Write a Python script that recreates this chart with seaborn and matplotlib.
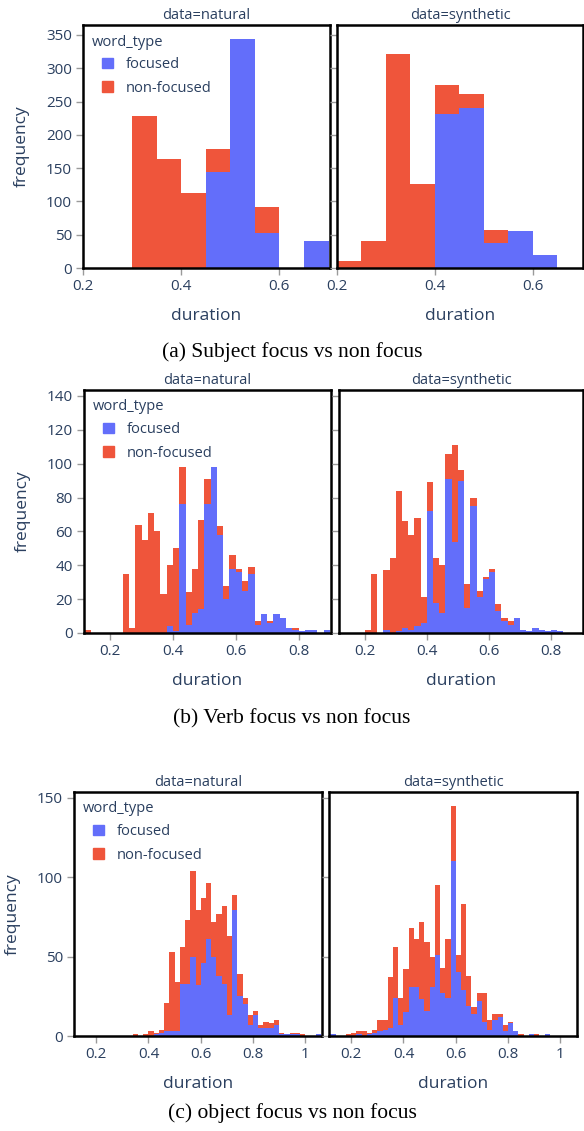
import numpy as np
import pandas as pd
import matplotlib
matplotlib.use("Agg")
import matplotlib.pyplot as plt
import seaborn as sns
from matplotlib.patches import Patch

# ---- data: counts per bin, focused (bottom) and non-focused (stacked on top)
# (a) subject focus, bins of 0.05 starting at 0.20
a_start, a_width = 0.20, 0.05
a_nat_focused = [0, 0, 0, 0, 0, 144, 344, 52, 0, 41]
a_nat_nonfocused = [0, 0, 228, 164, 112, 34, 0, 40, 0, 0]
a_syn_focused = [0, 0, 0, 0, 231, 241, 37, 55, 20, 0]
a_syn_nonfocused = [10, 40, 321, 126, 44, 20, 20, 0, 0, 0]

# (b) verb focus, bins of 0.02 starting at 0.12
b_start, b_width = 0.12, 0.02
b_nat_focused = [0, 0, 0, 0, 0, 0, 0, 0, 0, 0, 0, 0, 0,
                 4, 1, 76, 5, 12, 14, 76, 98, 58, 20, 38, 36, 25, 35, 5,
                 11, 6, 11, 9, 3, 2, 1, 2, 2, 0, 2]
b_nat_nonfocused = [2, 0, 0, 0, 0, 0, 35, 3, 64, 55, 71, 60, 23,
                    36, 49, 22, 19, 26, 53, 15, 0, 5, 8, 8, 2, 6, 4, 2,
                    0, 1, 0, 0, 0, 1, 0, 0, 0, 0, 0]
b_syn_focused = [0, 0, 0, 0, 0, 0, 0, 2, 0, 1, 3, 2, 4,
                 6, 72, 18, 12, 91, 54, 90, 15, 75, 21, 32, 36, 13, 7, 5,
                 9, 2, 1, 3, 2, 1, 2, 1, 0, 0, 0]
b_syn_nonfocused = [0, 0, 0, 0, 2, 35, 0, 35, 44, 83, 63, 56, 64,
                    15, 17, 26, 28, 15, 57, 6, 14, 5, 4, 1, 2, 4, 2, 2,
                    0, 0, 0, 0, 0, 0, 0, 0, 0, 0, 0]

# (c) object focus, bins of 0.02 starting at 0.12
c_start, c_width = 0.12, 0.02
c_nat_focused = [0, 0, 0, 0, 0, 0, 0, 0, 0, 0, 0, 0, 0, 0, 0,
                 1, 2, 3, 3, 3, 33, 33, 50, 32, 46, 61, 50, 38, 33, 13,
                 79, 25, 20, 7, 13, 5, 5, 5, 7, 1, 1, 1, 1, 0, 0, 0, 1]
c_nat_nonfocused = [0, 0, 0, 0, 0, 0, 0, 0, 0, 0, 0, 1, 0, 1, 3,
                    1, 2, 18, 50, 31, 23, 40, 54, 47, 41, 35, 22, 39, 49, 50,
                    10, 14, 4, 6, 3, 2, 4, 3, 3, 1, 0, 1, 1, 1, 0, 0, 0]
c_syn_focused = [1, 0, 0, 0, 0, 1, 0, 1, 2, 3, 4, 5, 24, 7, 15,
                 31, 31, 23, 16, 31, 51, 27, 24, 110, 40, 29, 19, 14, 22, 9,
                 4, 10, 12, 3, 8, 3, 0, 0, 1, 0, 0, 1, 0, 0, 0, 0, 0]
c_syn_nonfocused = [0, 0, 0, 1, 2, 2, 3, 1, 2, 7, 6, 32, 32, 17, 27,
                    37, 30, 49, 43, 19, 44, 16, 37, 35, 11, 54, 19, 4, 5, 18,
                    6, 4, 2, 4, 1, 0, 1, 0, 0, 1, 0, 0, 0, 0, 0, 0, 0]

captions = ["(a) Subject focus vs non focus",
            "(b) Verb focus vs non focus",
            "(c) object focus vs non focus"]
panel_names = ["natural", "synthetic"]

BLUE = "#636efa"
RED = "#ef553b"
TXT = "#2a3f5f"


def make_frame(start, width, focused, nonfocused):
    n = len(focused)
    centers = start + width * (np.arange(n) + 0.5)
    edges = start + width * np.arange(n + 1)
    df = pd.DataFrame({
        "duration": np.concatenate([centers, centers]),
        "count": list(focused) + list(nonfocused),
        "word_type": ["focused"] * n + ["non-focused"] * n,
    })
    return df, edges.tolist()


sns.set_style("white")
plt.rcParams["font.family"] = ["Open Sans", "DejaVu Sans"]

W, H = 584, 1131
fig = plt.figure(figsize=(W / 100, H / 100), dpi=100)


def px_rect(l, t, r, b):
    return [l / W, 1 - b / H, (r - l) / W, (b - t) / H]


rows = [
    dict(start=a_start, width=a_width,
         data=[(a_nat_focused, a_nat_nonfocused), (a_syn_focused, a_syn_nonfocused)],
         boxes=[(83, 25, 330, 268), (337, 25, 583, 268)],
         xlim=(0.2, 0.703), ylim=(0, 365),
         xticks=[0.2, 0.4, 0.6], yticks=range(0, 351, 50), cap_y=352),
    dict(start=b_start, width=b_width,
         data=[(b_nat_focused, b_nat_nonfocused), (b_syn_focused, b_syn_nonfocused)],
         boxes=[(84, 390, 331, 633), (339, 390, 583, 633)],
         xlim=(0.117, 0.903), ylim=(0, 143.5),
         xticks=[0.2, 0.4, 0.6, 0.8], yticks=range(0, 141, 20), cap_y=719),
    dict(start=c_start, width=c_width,
         data=[(c_nat_focused, c_nat_nonfocused), (c_syn_focused, c_syn_nonfocused)],
         boxes=[(74, 792, 322, 1036), (329, 792, 577, 1036)],
         xlim=(0.115, 1.064), ylim=(0, 153.5),
         xticks=[0.2, 0.4, 0.6, 0.8, 1.0], yticks=[0, 50, 100, 150], cap_y=1113),
]

for r, row in enumerate(rows):
    for k, (foc, nonfoc) in enumerate(row["data"]):
        l, t, rr, b = row["boxes"][k]
        aw, ah = rr - l, b - t
        ax = fig.add_axes(px_rect(l, t, rr, b))
        df, edges = make_frame(row["start"], row["width"], foc, nonfoc)
        sns.histplot(data=df, x="duration", weights="count", hue="word_type",
                     hue_order=["non-focused", "focused"],
                     palette={"focused": BLUE, "non-focused": RED},
                     bins=edges, multiple="stack", alpha=1, linewidth=0,
                     legend=False, ax=ax)
        ax.set_xlim(*row["xlim"])
        ax.set_ylim(*row["ylim"])
        ax.set_xticks(row["xticks"])
        ax.set_xticklabels(["1" if v == 1.0 else f"{v:.1f}" for v in row["xticks"]])
        ax.set_yticks(list(row["yticks"]))
        for s in ax.spines.values():
            s.set_visible(True)
            s.set_color("black")
            s.set_linewidth(1.8)
        ax.tick_params(axis="both", direction="out", length=5, width=1,
                       color="#9a9a9a", labelsize=11, labelcolor=TXT, pad=3)
        ax.tick_params(axis="y", left=True)
        ax.tick_params(axis="x", bottom=True)
        ax.set_title(f"data={panel_names[k]}", fontsize=10.5, color=TXT, pad=4)
        ax.set_xlabel("duration", fontsize=12.5, color=TXT)
        ax.xaxis.set_label_coords(0.5, -0.165)
        if k == 0:
            ax.set_ylabel("frequency", fontsize=12.5, color=TXT)
            ax.yaxis.set_label_coords(-0.215, 0.5)
            ax.text(8.5 / aw, 1 - 17 / ah, "word_type", transform=ax.transAxes,
                    ha="left", va="center", fontsize=10.5, color=TXT)
            handles = [Patch(color=BLUE, label="focused"),
                       Patch(color=RED, label="non-focused")]
            leg = ax.legend(handles=handles, loc="upper left",
                            bbox_to_anchor=(19 / aw, 1 - 32 / ah), frameon=False,
                            fontsize=10.5, handlelength=0.75, handleheight=0.75,
                            handletextpad=0.9, labelspacing=0.6,
                            borderpad=0, borderaxespad=0)
            for txt in leg.get_texts():
                txt.set_color(TXT)
        else:
            ax.set_ylabel("")
            ax.set_yticklabels([])
    fig.text(0.5, 1 - row["cap_y"] / H, captions[r], ha="center", va="center",
             fontsize=15.5, family="Liberation Serif", color="black")

fig.savefig("out.png", dpi=100)
